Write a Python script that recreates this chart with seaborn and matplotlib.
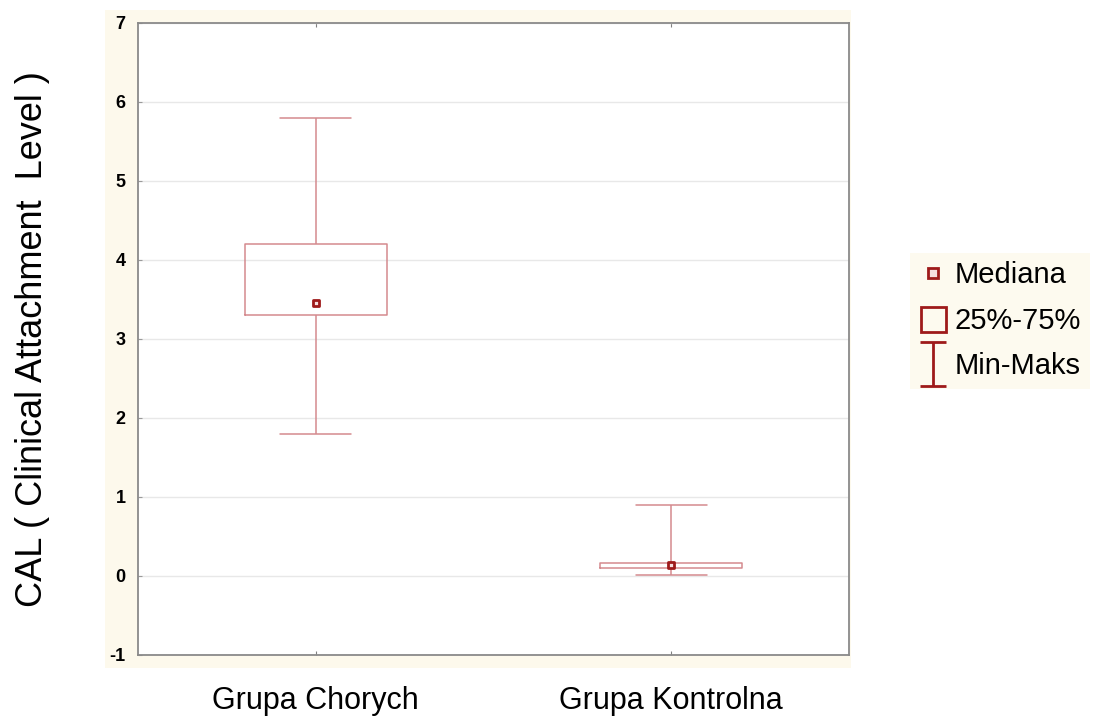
import numpy as np
import pandas as pd
import seaborn as sns
from matplotlib import pyplot as plt
from matplotlib.lines import Line2D
from matplotlib.patches import Rectangle
from matplotlib.path import Path

# summary values per group
grupy = ['Grupa Chorych', 'Grupa Kontrolna']
minimum = [1.8, 0.01]
q1 = [3.3, 0.10]
mediana = [3.45, 0.14]
q3 = [4.2, 0.16]
maksimum = [5.8, 0.9]

legend_labels = ['Mediana', '25%-75%', 'Min-Maks']
y_ticks = [-1, 0, 1, 2, 3, 4, 5, 6, 7]

BOX_COLOR = '#d48a8e'
DARK_RED = '#9e1a1a'
CREAM = '#fdf9ec'

# five values per group -> with whis=(0, 100) the boxplot shows exactly min/q1/med/q3/max
rows = []
for i, g in enumerate(grupy):
    for v in (minimum[i], q1[i], mediana[i], q3[i], maksimum[i]):
        rows.append({'grupa': g, 'CAL': v})
df = pd.DataFrame(rows)
df_med = pd.DataFrame({'grupa': grupy, 'CAL': mediana})

sns.set_style('whitegrid')
plt.rcParams['font.family'] = ['Liberation Sans', 'DejaVu Sans']
plt.rcParams['text.color'] = 'black'
plt.rcParams['xtick.color'] = 'black'
plt.rcParams['ytick.color'] = 'black'
plt.rcParams['axes.labelcolor'] = 'black'

fig = plt.figure(figsize=(10.93, 7.17), dpi=100)
fig.patches.append(Rectangle((0.096, 0.068), 0.683, 0.918, transform=fig.transFigure,
                             facecolor=CREAM, edgecolor='none', zorder=-5))
ax = fig.add_axes([0.1263, 0.0865, 0.6505, 0.8815])
ax.set_facecolor('white')

sns.boxplot(data=df, x='grupa', y='CAL', ax=ax, whis=(0, 100), width=0.4,
            fill=False, color=BOX_COLOR, linewidth=1.1,
            medianprops={'visible': False}, showfliers=False)
sns.scatterplot(data=df_med, x='grupa', y='CAL', ax=ax, marker='s', s=25,
                color='#f6dede', edgecolor=DARK_RED, linewidth=2, zorder=5)

ax.set_xlim(-0.5, 1.5)
ax.set_ylim(-1, 7)
ax.set_yticks(y_ticks)
ax.set_yticklabels([str(t) for t in y_ticks], fontsize=13, fontweight='bold')
ax.tick_params(axis='x', labelsize=22, pad=22, direction='in', length=3,
               top=True, bottom=True, color='#808080')
ax.tick_params(axis='y', direction='in', length=3, left=True, pad=9, color='#9a9a9a')
ax.set_xlabel('')
ax.set_ylabel('CAL ( Clinical Attachment  Level )', fontsize=26)
ax.yaxis.set_label_coords(-0.124, 0.5)
ax.grid(axis='y', color='#e8e8e8', linewidth=1)
ax.grid(axis='x', visible=False)
for s in ax.spines.values():
    s.set_color('#8a8a8a')
    s.set_linewidth(1.3)

# I-shaped marker for the min-max whisker
ibar = Path([(-0.6, 1), (0.6, 1), (0, 1), (0, -1), (-0.6, -1), (0.6, -1)],
            [Path.MOVETO, Path.LINETO, Path.MOVETO, Path.LINETO, Path.MOVETO, Path.LINETO])
handles = [
    Line2D([], [], linestyle='none', marker='s', markersize=7, mfc='#f6dede',
           mec=DARK_RED, mew=2),
    Line2D([], [], linestyle='none', marker='s', markersize=18, mfc='none',
           mec=DARK_RED, mew=2),
    Line2D([], [], linestyle='none', marker=ibar, markersize=31, mfc='none',
           mec=DARK_RED, mew=2),
]
leg = fig.legend(handles, legend_labels, loc='upper left', bbox_to_anchor=(0.819, 0.668),
                 fontsize=21, frameon=True, facecolor=CREAM, edgecolor='none',
                 fancybox=False, handlelength=1.0, handletextpad=0.25, labelspacing=0.6,
                 borderpad=0.3)

fig.savefig('out.png', dpi=100)
plt.close(fig)
